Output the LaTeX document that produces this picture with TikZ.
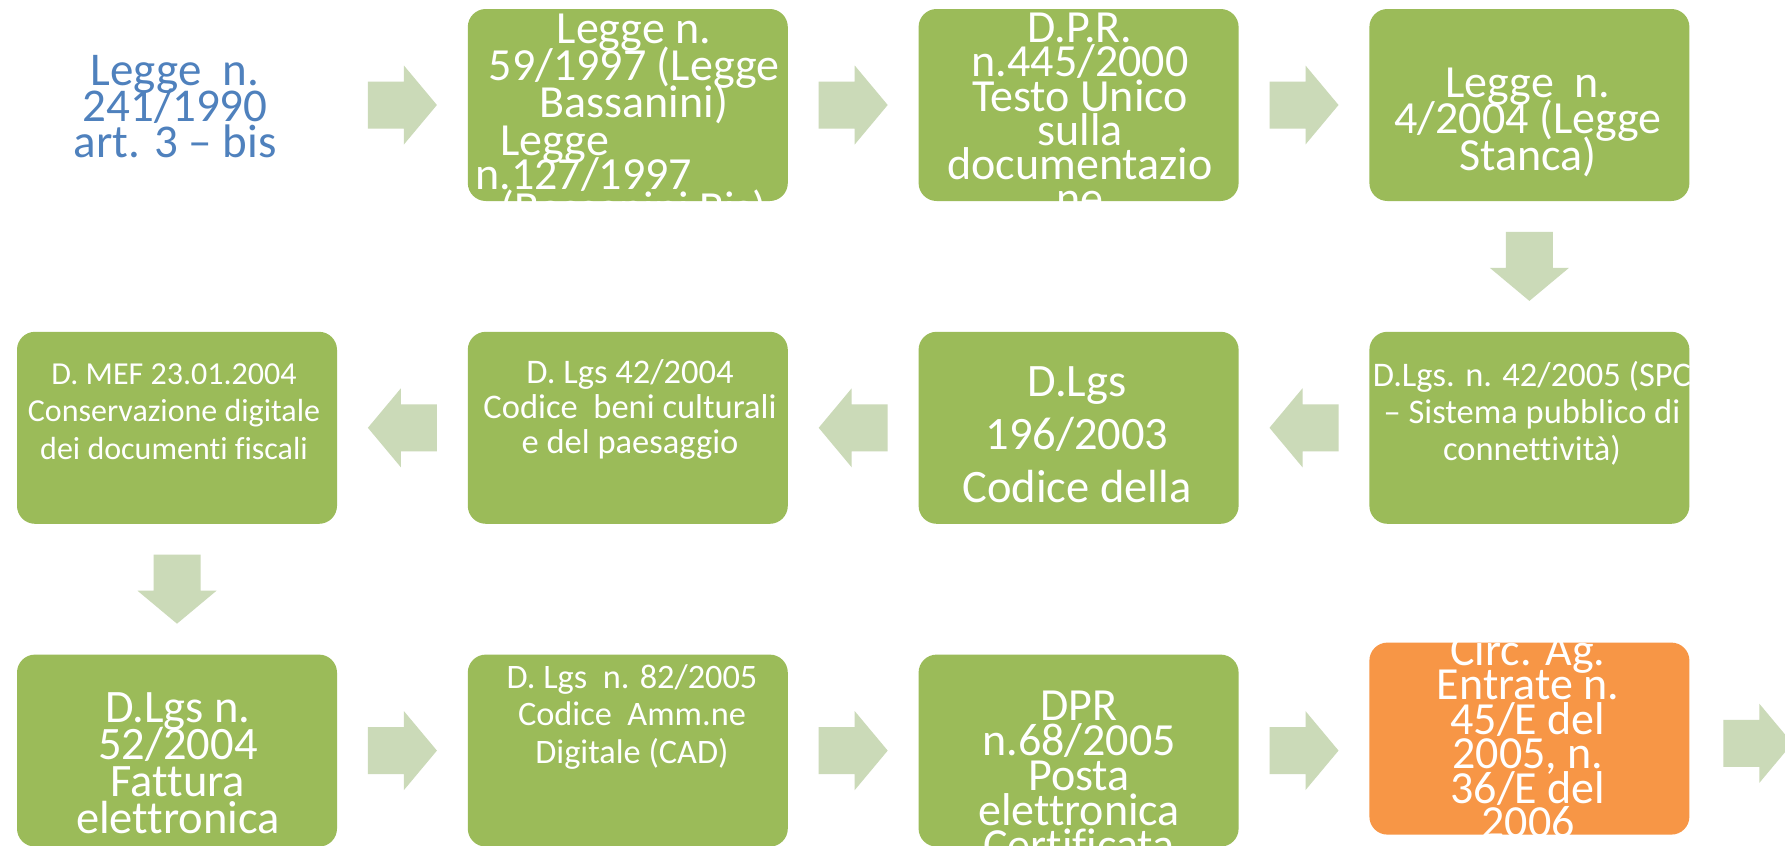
\documentclass[tikz,border=0pt]{standalone}
\usepackage{fontspec}
\setmainfont{Carlito}[Ligatures={TeX,NoCommon}]
\usetikzlibrary{positioning,calc}
\definecolor{boxgreen}{HTML}{9BBB59}
\definecolor{arrowgreen}{HTML}{CBDAB8}
\definecolor{circorange}{HTML}{F79646}
\definecolor{lawblue}{HTML}{4F81BD}
\newcommand{\txtsize}[2]{\fontsize{#1}{#2}\selectfont\lineskiplimit=-\maxdimen}
\newcommand{\topstrut}{\rule{0pt}{.8em}}
\newcommand{\blockarrow}[3]{\fill[arrowfill,shift={($(#1)!.5!(#2)$)},rotate=#3] (-34.5,-23.5) -- (1.5,-23.5) -- (1.5,-39.5) -- (34.5,0) -- (1.5,39.5) -- (1.5,23.5) -- (-34.5,23.5) -- cycle;}
\tikzset{box/.style={fill=boxgreen,rounded corners=9pt,minimum width=160pt,minimum height=96pt,inner sep=0pt},plain/.style={minimum width=160pt,minimum height=96pt,inner sep=0pt},txt/.style={anchor=north,align=center,inner sep=0pt,text=white},arrowfill/.style={fill=arrowgreen}}

\begin{document}
\begin{tikzpicture}[x=0.5pt,y=-0.5pt,node distance=65pt]
\fill[white] (0,0) rectangle (1785,846);
\useasboundingbox (0,0) rectangle (1785,846);
\node[plain] (l241) at (177,105) {};
\node[box,right=of l241] (bassanini) {};
\node[box,right=of bassanini] (tu445) {};
\node[box,right=of tu445] (stanca) {};
\node[box,below=of stanca] (spc) {};
\node[box,left=of spc] (privacy) {};
\node[box,left=of privacy] (beniCult) {};
\node[box,left=of beniCult] (mef) {};
\node[box,below=of mef] (fattura) {};
\node[box,right=of fattura] (cad) {};
\node[box,right=of cad] (pec) {};
\node[box,fill=circorange,right=of pec,yshift=6pt] (circ) {};
\coordinate (out) at (1826,748);

\node[txt,text=lawblue,font=\txtsize{23.5pt}{18pt}] (t-l241) at (175,47.4) {\topstrut Legge~~n.\\241/1990\\art. 3 – bis};
\node[txt,font=\txtsize{23pt}{18.5pt}] (t-bassanini) at (634,6.2) {\topstrut Legge n.\\59/1997 (Legge\\Bassanini)};
\node[txt,anchor=north west,align=left,font=\txtsize{23pt}{17pt}] (t-bassanini2) at (475,118.2) {\topstrut\hspace*{12.5pt}Legge\\n.127/1997\\\hspace*{12.5pt}(Bassanini Bis)};
\node[txt,font=\txtsize{23pt}{17.15pt}] (t-tu445) at (1080,5.2) {\topstrut D.P.R.\\n.445/2000\\Testo Unico\\sulla\\documentazio\\ne};
\node[txt,font=\txtsize{23pt}{18.25pt}] (t-stanca) at (1528,60.2) {\topstrut Legge~~n.\\4/2004 (Legge\\Stanca)};

\node[txt,font=\txtsize{16pt}{18.75pt}] (t-mef) at (174,358.4) {\topstrut D. MEF 23.01.2004\\Conservazione digitale\\dei documenti fiscali};
\node[txt,font=\txtsize{17.25pt}{17.5pt}] (t-beniCult) at (630,355.4) {\topstrut D. Lgs 42/2004\\Codice~~beni culturali\\e del paesaggio};
\node[txt,font=\txtsize{23.25pt}{26.5pt}] (t-privacy) at (1077,358.8) {\topstrut D.Lgs\\196/2003\\Codice della};
\node[txt,font=\txtsize{17.25pt}{18.5pt}] (t-spc) at (1532,358.4) {\topstrut D.Lgs. n. 42/2005 (SPC\\– Sistema pubblico di\\connettività)};

\node[txt,font=\txtsize{23.25pt}{18.5pt}] (t-fattura) at (178,684.8) {\topstrut D.Lgs n.\\52/2004\\Fattura\\elettronica};
\node[txt,font=\txtsize{17.15pt}{18.75pt}] (t-cad) at (632,660.6) {\topstrut D. Lgs~~n. 82/2005\\Codice~~Amm.ne\\Digitale (CAD)};
\node[txt,font=\txtsize{23pt}{17.5pt}] (t-pec) at (1079,683.2) {\topstrut DPR\\n.68/2005\\Posta\\elettronica\\Certificata};
\node[txt,font=\txtsize{23pt}{17.25pt}] (t-circ) at (1528,628.2) {\topstrut Circ. Ag.\\Entrate n.\\45/E del\\2005, n.\\36/E del\\2006};

\blockarrow{l241.east}{bassanini.west}{0}
\blockarrow{bassanini.east}{tu445.west}{0}
\blockarrow{tu445.east}{stanca.west}{0}
\blockarrow{stanca.south}{spc.north}{-90}
\blockarrow{spc.west}{privacy.east}{180}
\blockarrow{privacy.west}{beniCult.east}{180}
\blockarrow{beniCult.west}{mef.east}{180}
\blockarrow{mef.south}{fattura.north}{-90}
\blockarrow{fattura.east}{cad.west}{0}
\blockarrow{cad.east}{pec.west}{0}
\blockarrow{pec.east}{pec.east-|circ.west}{0}
\blockarrow{circ.east}{out}{0}
\end{tikzpicture}
\end{document}
